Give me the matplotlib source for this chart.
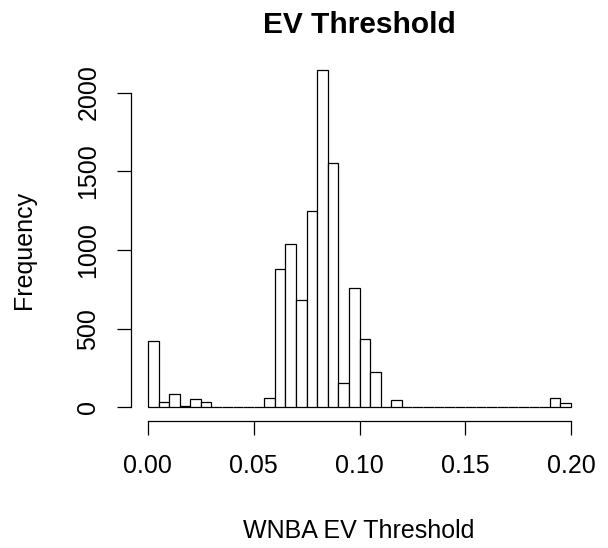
import matplotlib
matplotlib.use("Agg")
import matplotlib.pyplot as plt
import numpy as np

# histogram of WNBA EV threshold, bins of width 0.005 from 0 to 0.2
bin_edges = np.round(np.arange(0, 0.2001, 0.005), 3)
counts = [425, 32, 85, 10, 55, 36, 0, 5, 5, 0,
          3, 63, 878, 1039, 683, 1246, 2146, 1553, 154, 760,
          434, 226, 5, 48, 2, 0, 1, 1, 1, 1,
          1, 0, 2, 2, 1, 0, 2, 0, 61, 27]
x_ticks = [0.00, 0.05, 0.10, 0.15, 0.20]
x_tick_labels = ["0.00", "0.05", "0.10", "0.15", "0.20"]
y_ticks = [0, 500, 1000, 1500, 2000]

plt.rcParams['font.family'] = ['Liberation Sans', 'DejaVu Sans']

fig = plt.figure(figsize=(6.08, 5.48), dpi=100)
ax = fig.add_axes([131 / 608, 127 / 548, 457 / 608, 365 / 548])

ax.bar(bin_edges[:-1], counts, width=0.005, align='edge',
       facecolor='white', edgecolor='black', linewidth=0.9)

# R-style limits with 4% padding
ax.set_xlim(-0.008, 0.208)
ymax = max(counts)
ax.set_ylim(-0.04 * ymax, 1.04 * ymax)

for side in ['top', 'right']:
    ax.spines[side].set_visible(False)
ax.spines['left'].set_bounds(0, 2000)
ax.spines['bottom'].set_bounds(0, 0.2)
ax.spines['left'].set_linewidth(0.9)
ax.spines['bottom'].set_linewidth(0.9)

ax.set_xticks(x_ticks)
ax.set_xticklabels(x_tick_labels)
ax.set_yticks(y_ticks)
ax.set_yticklabels([str(v) for v in y_ticks])
ax.tick_params(axis='both', length=10, width=0.9, labelsize=18)
ax.tick_params(axis='x', pad=14)
ax.tick_params(axis='y', pad=12, labelrotation=90)
for lbl in ax.get_yticklabels():
    lbl.set_va('center')

fig.text(359 / 608, 1 - 33 / 548, "EV Threshold", ha='center', va='baseline',
         fontsize=21.5, fontweight='bold')
fig.text(359 / 608, 1 - 538 / 548, "WNBA EV Threshold", ha='center', va='baseline',
         fontsize=18)
fig.text(31 / 608, 1 - 250 / 548, "Frequency", ha='center', va='baseline',
         rotation=90, rotation_mode='anchor', fontsize=18)

fig.savefig("out.png", dpi=100)
